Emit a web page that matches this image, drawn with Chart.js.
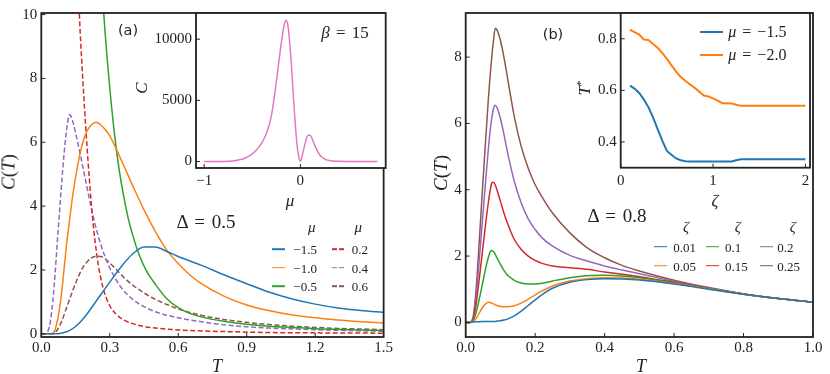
<!DOCTYPE html>
<html lang="en">
<head>
<meta charset="UTF-8">
<title>C(T)</title>
<script src="https://cdn.jsdelivr.net/npm/chart.js@4"></script>
<style>
  body { margin: 0; background: #fff; }
  #fig { position: relative; width: 830px; height: 374px; overflow: hidden;
         font-family: 'Liberation Serif', serif; color: #222; }
  canvas { position: absolute; top: 0; }
  .t { position: absolute; white-space: nowrap; transform: translate(-50%, -50%); line-height: 1; }
  .rot { transform: translate(-50%, -50%) rotate(-90deg); }
  .l { position: absolute; white-space: nowrap; transform: translate(0, -50%); line-height: 1; font-size: 12.5px; }
  .sw { position: absolute; height: 1.6px; transform: translateY(-50%); }
  .tag { font-family: 'DejaVu Sans', sans-serif; font-size: 14.5px; }
  .ws { word-spacing: 2px; }
</style>
</head>
<body>
<div id="fig">
  <canvas id="mainA" width="395" height="374" style="left:0px"></canvas>
  <canvas id="mainB" width="415" height="374" style="left:415px"></canvas>
  <canvas id="insetA" width="250" height="215" style="left:140px"></canvas>
  <canvas id="insetB" width="260" height="215" style="left:570px"></canvas>

  <div class="t rot" style="left:8px;top:172px;font-size:19px"><i>C</i>(<i>T</i>)</div>
  <div class="t" style="left:217px;top:366px;font-size:18px"><i>T</i></div>
  <div class="t tag" style="left:128px;top:30px">(a)</div>
  <div class="t ws" style="left:206px;top:221px;font-size:19px">Δ = 0.5</div>
  <div class="t rot" style="left:141px;top:88px;font-size:17px"><i>C</i></div>
  <div class="t" style="left:290px;top:200px;font-size:17px"><i>μ</i></div>
  <div class="t ws" style="left:345px;top:32px;font-size:17px"><i>β</i> = 15</div>

  <div class="t rot" style="left:440px;top:173px;font-size:19px"><i>C</i>(<i>T</i>)</div>
  <div class="t" style="left:641px;top:366px;font-size:18px"><i>T</i></div>
  <div class="t tag" style="left:553px;top:34px">(b)</div>
  <div class="t ws" style="left:617px;top:215px;font-size:19px">Δ = 0.8</div>
  <div class="t rot" style="left:584px;top:88px;font-size:17px"><i>T</i><sup style="font-size:11px">*</sup></div>
  <div class="t" style="left:715px;top:200px;font-size:17px"><i>ζ</i></div>
</div>

<script>
  // ---------- panel (a): Delta = 0.5, curves for several mu ----------
  const muLabelsA = ['\u22121.5', '\u22121.0', '\u22120.5', '0.2', '0.4', '0.6'];
  const colorsA = ['#1f77b4', '#ff7f0e', '#2ca02c', '#d62728', '#9467bd', '#8c564b'];
  const dashedA = [false, false, false, true, true, true];

  const tMuM15 = [0, 0.06, 0.08, 0.1, 0.125, 0.15, 0.175, 0.2, 0.25, 0.3, 0.35, 0.4, 0.45, 0.5, 0.55, 0.6, 0.7, 0.8, 0.9, 1.0, 1.1, 1.2, 1.3, 1.4, 1.5];
  const cMuM15 = [0, 0, 0.01, 0.04, 0.11, 0.23, 0.4, 0.62, 1.12, 1.62, 2.1, 2.5, 2.72, 2.72, 2.58, 2.42, 2.15, 1.85, 1.57, 1.3, 1.09, 0.93, 0.81, 0.73, 0.67];

  const tMuM10 = [0, 0.04, 0.05, 0.06, 0.07, 0.08, 0.09, 0.1, 0.11, 0.12, 0.14, 0.16, 0.18, 0.2, 0.22, 0.24, 0.26, 0.28, 0.3, 0.35, 0.4, 0.45, 0.5, 0.55, 0.6, 0.65, 0.7, 0.8, 0.9, 1.0, 1.1, 1.2, 1.3, 1.4, 1.5];
  const cMuM10 = [0, 0, 0.02, 0.12, 0.4, 0.8, 1.35, 2.05, 2.75, 3.35, 4.45, 5.3, 5.95, 6.35, 6.55, 6.63, 6.55, 6.4, 6.2, 5.45, 4.65, 3.88, 3.2, 2.62, 2.2, 1.85, 1.58, 1.18, 0.9, 0.72, 0.59, 0.5, 0.43, 0.38, 0.34];

  const tMuM05 = [0.26, 0.27, 0.28, 0.29, 0.3, 0.32, 0.34, 0.36, 0.38, 0.4, 0.43, 0.46, 0.5, 0.55, 0.6, 0.65, 0.7, 0.8, 0.9, 1.0, 1.1, 1.2, 1.3, 1.4, 1.5];
  const cMuM05 = [11.6, 10.4, 9.4, 8.5, 7.7, 6.3, 5.2, 4.35, 3.65, 3.1, 2.45, 1.98, 1.55, 1.1, 0.82, 0.64, 0.53, 0.39, 0.3, 0.24, 0.2, 0.16, 0.14, 0.12, 0.1];

  const tMu02 = [0.16, 0.165, 0.17, 0.18, 0.19, 0.2, 0.21, 0.22, 0.23, 0.24, 0.25, 0.27, 0.3, 0.33, 0.36, 0.4, 0.45, 0.5, 0.6, 0.7, 0.8, 1.0, 1.2, 1.5];
  const cMu02 = [11.2, 10.3, 9.5, 8.2, 7.0, 5.9, 4.9, 4.0, 3.25, 2.65, 2.15, 1.45, 0.88, 0.6, 0.44, 0.32, 0.23, 0.18, 0.12, 0.09, 0.07, 0.04, 0.03, 0.02];

  const tMu04 = [0, 0.02, 0.03, 0.04, 0.05, 0.06, 0.07, 0.08, 0.09, 0.1, 0.11, 0.12, 0.125, 0.13, 0.14, 0.15, 0.17, 0.19, 0.21, 0.23, 0.25, 0.28, 0.31, 0.35, 0.4, 0.45, 0.5, 0.6, 0.7, 0.8, 0.9, 1.0, 1.2, 1.5];
  const cMu04 = [0, 0, 0.1, 0.4, 1.0, 1.85, 2.85, 3.85, 4.8, 5.65, 6.35, 6.8, 6.87, 6.82, 6.6, 6.3, 5.65, 4.95, 4.25, 3.6, 3.05, 2.4, 1.92, 1.45, 1.08, 0.85, 0.69, 0.5, 0.38, 0.28, 0.22, 0.18, 0.13, 0.08];

  const tMu06 = [0, 0.05, 0.06, 0.07, 0.08, 0.09, 0.1, 0.12, 0.14, 0.16, 0.18, 0.2, 0.22, 0.24, 0.26, 0.28, 0.3, 0.33, 0.36, 0.4, 0.45, 0.5, 0.55, 0.6, 0.7, 0.8, 0.9, 1.0, 1.1, 1.2, 1.3, 1.4, 1.5];
  const cMu06 = [0, 0, 0.05, 0.12, 0.25, 0.4, 0.6, 1.0, 1.4, 1.75, 2.05, 2.25, 2.38, 2.43, 2.42, 2.35, 2.22, 2.0, 1.78, 1.53, 1.28, 1.08, 0.92, 0.78, 0.58, 0.45, 0.36, 0.29, 0.24, 0.2, 0.17, 0.15, 0.13];

  const xTicksA = [0, 0.3, 0.6, 0.9, 1.2, 1.5];
  const yTicksA = [0, 2, 4, 6, 8, 10];

  // inset (a): C vs mu at beta = 15
  const muInset = [-1, -0.8, -0.7, -0.6, -0.55, -0.5, -0.45, -0.4, -0.35, -0.3, -0.25, -0.2, -0.17, -0.15, -0.13, -0.1, -0.07, -0.04, -0.02, 0, 0.02, 0.05, 0.08, 0.1, 0.12, 0.15, 0.2, 0.25, 0.3, 0.4, 0.5, 0.8];
  const cInset = [0, 5, 40, 200, 380, 620, 1000, 1550, 2350, 3800, 6500, 9600, 11100, 11550, 11150, 8700, 5000, 1800, 500, 30, 500, 1500, 2150, 2150, 1900, 1300, 550, 220, 80, 15, 3, 0];
  const xTicksInA = [-1, 0];
  const yTicksInA = [0, 5000, 10000];

  // ---------- panel (b): Delta = 0.8, curves for several zeta ----------
  const zetaLabels = ['0.01', '0.05', '0.1', '0.15', '0.2', '0.25'];
  const colorsB = ['#1f77b4', '#ff7f0e', '#2ca02c', '#d62728', '#9467bd', '#8c564b'];
  const tB = [0, 0.01, 0.02, 0.03, 0.04, 0.05, 0.06, 0.065, 0.07, 0.075, 0.08, 0.085, 0.09, 0.1, 0.11, 0.12, 0.14, 0.16, 0.18, 0.2, 0.22, 0.25, 0.3, 0.35, 0.4, 0.45, 0.5, 0.6, 0.7, 0.8, 0.9, 1.0];
  const cZ001 = [0, 0, 0.01, 0.02, 0.02, 0.03, 0.03, 0.03, 0.03, 0.03, 0.03, 0.03, 0.04, 0.05, 0.07, 0.1, 0.2, 0.34, 0.51, 0.68, 0.84, 1.03, 1.21, 1.29, 1.32, 1.31, 1.28, 1.16, 1.0, 0.85, 0.72, 0.61];
  const cZ005 = [0, 0, 0.02, 0.12, 0.3, 0.47, 0.58, 0.61, 0.6, 0.58, 0.56, 0.53, 0.51, 0.48, 0.47, 0.47, 0.5, 0.58, 0.7, 0.83, 0.95, 1.1, 1.25, 1.32, 1.35, 1.34, 1.3, 1.17, 1.01, 0.85, 0.72, 0.61];
  const cZ010 = [0, 0, 0.03, 0.3, 0.75, 1.25, 1.75, 1.95, 2.12, 2.17, 2.13, 2.05, 1.95, 1.75, 1.57, 1.43, 1.27, 1.19, 1.16, 1.16, 1.18, 1.25, 1.35, 1.41, 1.42, 1.4, 1.35, 1.19, 1.02, 0.85, 0.72, 0.61];
  const cZ015 = [0, 0, 0.05, 0.55, 1.4, 2.3, 3.2, 3.6, 3.95, 4.2, 4.23, 4.15, 4.0, 3.65, 3.3, 3.0, 2.5, 2.2, 2.0, 1.87, 1.78, 1.7, 1.65, 1.6, 1.52, 1.45, 1.38, 1.21, 1.03, 0.86, 0.72, 0.61];
  const cZ020 = [0, 0, 0.08, 0.8, 2.0, 3.3, 4.6, 5.2, 5.75, 6.15, 6.45, 6.55, 6.48, 6.15, 5.68, 5.15, 4.25, 3.6, 3.12, 2.8, 2.55, 2.3, 2.02, 1.85, 1.7, 1.58, 1.47, 1.24, 1.04, 0.86, 0.72, 0.61];
  const cZ025 = [0, 0, 0.1, 1.0, 2.6, 4.3, 5.9, 6.7, 7.4, 8.0, 8.5, 8.87, 8.82, 8.5, 8.0, 7.4, 6.2, 5.3, 4.65, 4.15, 3.78, 3.3, 2.7, 2.25, 1.95, 1.72, 1.55, 1.27, 1.05, 0.86, 0.72, 0.61];
  const xTicksB = [0, 0.2, 0.4, 0.6, 0.8, 1.0];
  const yTicksB = [0, 2, 4, 6, 8];

  // inset (b): T* vs zeta
  const zetaInset = [0.1, 0.15, 0.2, 0.25, 0.3, 0.35, 0.4, 0.45, 0.5, 0.55, 0.6, 0.65, 0.7, 0.75, 0.8, 0.85, 0.9, 0.95, 1.0, 1.05, 1.1, 1.15, 1.2, 1.25, 1.3, 1.4, 1.5, 1.6, 1.7, 1.8, 1.9, 2.0];
  const tStarM15 = [0.618, 0.607, 0.59, 0.565, 0.535, 0.495, 0.45, 0.405, 0.365, 0.35, 0.336, 0.329, 0.325, 0.324, 0.324, 0.324, 0.324, 0.324, 0.324, 0.324, 0.324, 0.324, 0.324, 0.329, 0.333, 0.333, 0.333, 0.333, 0.333, 0.333, 0.333, 0.333];
  const tStarM20 = [0.835, 0.826, 0.816, 0.797, 0.795, 0.78, 0.765, 0.745, 0.722, 0.697, 0.673, 0.652, 0.637, 0.623, 0.61, 0.595, 0.58, 0.576, 0.569, 0.56, 0.55, 0.55, 0.549, 0.544, 0.54, 0.54, 0.54, 0.54, 0.54, 0.54, 0.54, 0.54];
  const insetBLabels = ['\u03bc = \u22121.5', '\u03bc = \u22122.0'];
  const xTicksInB = [0, 1, 2];
  const yTicksInB = [0.4, 0.6, 0.8];

  Chart.defaults.font.family = "'Liberation Serif', serif";
  Chart.defaults.color = '#222';

  function signed(v, d) {
    const s = Math.abs(v).toFixed(d);
    return v < 0 ? '\u2212' + s : s;
  }

  // white inset background, inward ticks and the box
  const frame = {
    id: 'frame',
    beforeDraw(chart, args, opts) {
      if (!opts.fill) return;
      const { ctx, chartArea: a } = chart;
      ctx.save();
      ctx.fillStyle = '#fff';
      ctx.fillRect(a.left, a.top, a.right - a.left, a.bottom - a.top);
      ctx.restore();
    },
    afterDraw(chart) {
      const { ctx, chartArea: a, scales } = chart;
      ctx.save();
      ctx.strokeStyle = '#222';
      ctx.lineWidth = 1;
      ctx.beginPath();
      scales.x.ticks.forEach(t => {
        const p = scales.x.getPixelForValue(t.value);
        ctx.moveTo(p, a.bottom);
        ctx.lineTo(p, a.bottom - 4);
      });
      scales.y.ticks.forEach(t => {
        const p = scales.y.getPixelForValue(t.value);
        ctx.moveTo(a.left, p);
        ctx.lineTo(a.left + 4, p);
      });
      ctx.stroke();
      ctx.lineWidth = 1.8;
      ctx.strokeRect(a.left, a.top, a.right - a.left, a.bottom - a.top);
      ctx.restore();
    }
  };

  function makeChart(id, sets, o) {
    return new Chart(document.getElementById(id), {
      type: 'line',
      data: {
        datasets: sets.map(s => ({
          data: s.x.map((x, i) => ({ x: x, y: s.y[i] })),
          borderColor: s.color,
          borderWidth: s.width || 1.5,
          borderDash: s.dash ? [5, 2.5] : [],
          pointRadius: 0,
          fill: false,
          cubicInterpolationMode: s.straight ? 'default' : 'monotone',
          tension: 0
        }))
      },
      options: {
        responsive: false,
        animation: false,
        events: [],
        layout: { autoPadding: false, padding: o.pad },
        plugins: { legend: { display: false }, tooltip: { enabled: false }, frame: { fill: o.fill } },
        scales: {
          x: {
            type: 'linear', min: o.x[0], max: o.x[1],
            grid: { display: false, drawTicks: false }, border: { display: false },
            ticks: { autoSkip: false, maxRotation: 0, padding: o.xPad, font: { size: 15 }, callback: o.xFmt },
            afterBuildTicks: s => { s.ticks = o.xTicks.map(v => ({ value: v })); },
            afterFit: s => { s.height = o.xH; }
          },
          y: {
            type: 'linear', min: o.y[0], max: o.y[1],
            grid: { display: false, drawTicks: false }, border: { display: false },
            ticks: { autoSkip: false, padding: 4, font: { size: 15 }, callback: o.yFmt },
            afterBuildTicks: s => { s.ticks = o.yTicks.map(v => ({ value: v })); },
            afterFit: s => { s.width = o.yW; }
          }
        }
      },
      plugins: [frame]
    });
  }

  const pairsA = [[tMuM15, cMuM15], [tMuM10, cMuM10], [tMuM05, cMuM05], [tMu02, cMu02], [tMu04, cMu04], [tMu06, cMu06]];
  makeChart('mainA', pairsA.map((p, i) => ({ x: p[0], y: p[1], color: colorsA[i], dash: dashedA[i] })), {
    x: [0, 1.5], y: [-0.1, 10.05], xTicks: xTicksA, yTicks: yTicksA,
    xFmt: v => v.toFixed(1), yFmt: v => String(v),
    pad: { top: 6, right: 5.7, bottom: 0, left: 0 }, yW: 41.3, xH: 37, xPad: 2
  });

  const seriesB = [cZ001, cZ005, cZ010, cZ015, cZ020, cZ025];
  makeChart('mainB', seriesB.map((c, i) => ({ x: tB, y: c, color: colorsB[i] })), {
    x: [0, 1.0], y: [-0.44, 9.33], xTicks: xTicksB, yTicks: yTicksB,
    xFmt: v => v.toFixed(1), yFmt: v => String(v),
    pad: { top: 7, right: 17, bottom: 0, left: 0 }, yW: 50.7, xH: 37, xPad: 2
  });

  makeChart('insetA', [{ x: muInset, y: cInset, color: '#e377c2' }], {
    x: [-1.085, 0.887], y: [-530, 12140], xTicks: xTicksInA, yTicks: yTicksInA,
    xFmt: v => signed(v, 0), yFmt: v => String(v),
    pad: { top: 10, right: 4.3, bottom: 0, left: 0 }, yW: 56, xH: 47, xPad: 4, fill: true
  });

  makeChart('insetB', [
    { x: zetaInset, y: tStarM15, color: '#1f77b4', width: 2, straight: true },
    { x: zetaInset, y: tStarM20, color: '#ff7f0e', width: 2, straight: true }
  ], {
    x: [0, 2.05], y: [0.3, 0.9], xTicks: xTicksInB, yTicks: yTicksInB,
    xFmt: v => String(v), yFmt: v => v.toFixed(1),
    pad: { top: 10, right: 20, bottom: 0, left: 0 }, yW: 50.7, xH: 47.3, xPad: 4, fill: true
  });

  // ---------- legends (HTML text) ----------
  const fig = document.getElementById('fig');
  function addText(html, cls, x, y, size) {
    const d = document.createElement('div');
    d.className = cls;
    d.innerHTML = html;
    d.style.left = x + 'px';
    d.style.top = y + 'px';
    if (size) d.style.fontSize = size + 'px';
    fig.appendChild(d);
  }
  function addSwatch(color, dash, x, y, w, h) {
    const d = document.createElement('div');
    d.className = 'sw';
    d.style.left = x + 'px';
    d.style.top = y + 'px';
    d.style.width = w + 'px';
    if (h) d.style.height = h + 'px';
    d.style.background = dash
      ? 'repeating-linear-gradient(90deg,' + color + ' 0 5px,transparent 5px 7.5px)'
      : color;
    fig.appendChild(d);
  }

  // panel (a) legend: two columns, mu header on each
  [311.7, 358.3].forEach(x => addText('<i>μ</i>', 't', x, 227, 15));
  const rowsA = [249, 267.7, 286];
  muLabelsA.forEach((lab, i) => {
    const col = i < 3 ? 0 : 1;
    const y = rowsA[i % 3];
    addSwatch(colorsA[i], dashedA[i], [271.7, 331.7][col], y, 13.3);
    addText(lab, 'l', [293.3, 351.7][col], y, 13);
  });

  // panel (b) legend: three columns, zeta header on each
  [686, 737.7, 792.7].forEach(x => addText('<i>ζ</i>', 't', x, 227, 15));
  const rowsB = [246.7, 265.7];
  zetaLabels.forEach((lab, i) => {
    const col = Math.floor(i / 2);
    const y = rowsB[i % 2];
    addSwatch(colorsB[i], false, [654, 706, 760][col], y, 13.3);
    addText(lab, 'l', [673.3, 725, 777.3][col], y, 13);
  });

  // inset (b) legend
  ['#1f77b4', '#ff7f0e'].forEach((c, i) => {
    const y = [32.3, 55][i];
    addSwatch(c, false, 700, y, 23.3, 2);
    addText(insetBLabels[i].replace('\u03bc', '<i>μ</i>'), 'l ws', 728.3, y, 16);
  });
</script>
</body>
</html>
